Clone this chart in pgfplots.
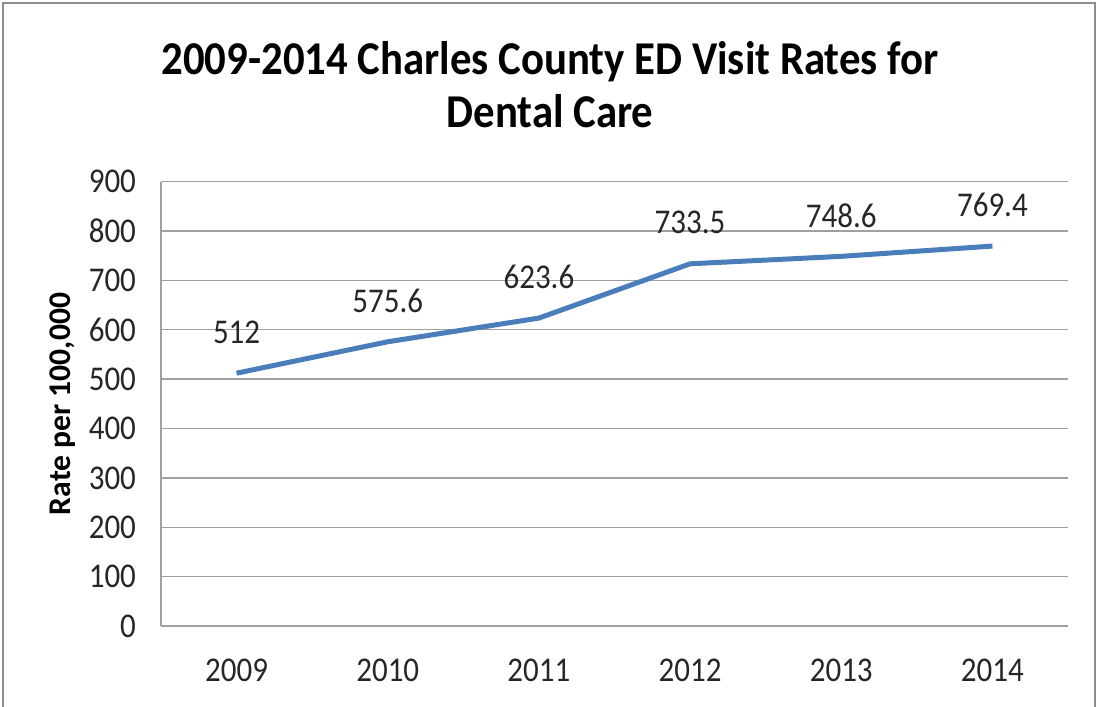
\documentclass[border=0pt]{standalone}
\usepackage{pgfplots}
\pgfplotsset{compat=1.18}
\usepackage{fontspec}
\setmainfont{Carlito}
\definecolor{lineblue}{HTML}{4A7EBB}
\definecolor{gridgray}{HTML}{A0A0A0}
\definecolor{framegray}{HTML}{8C8C8C}
\begin{document}
\begin{tikzpicture}
\useasboundingbox (0,0) rectangle (550pt,353.5pt);
\draw[framegray, line width=0.9pt] (1.5pt,0) -- (1.5pt,352pt) -- (547.5pt,352pt) -- (547.5pt,0);
\node[align=center, yscale=1.1, font=\fontsize{21.4}{24}\selectfont\bfseries] at (275pt,311pt) {2009-2014 Charles County ED Visit Rates for\\Dental Care};
\node[rotate=90, font=\fontsize{15.8}{18}\selectfont\bfseries] at (31.5pt,151.5pt) {Rate per 100,000};
\begin{axis}[
  at={(80.5pt,40.5pt)}, anchor=south west,
  scale only axis, width=453.5pt, height=222.2pt,
  xmin=-0.5, xmax=5.5, ymin=0, ymax=900,
  xtick={0,1,2,3,4,5},
  xticklabels={2009,2010,2011,2012,2013,2014},
  ytick={0,100,...,900},
  ymajorgrids, grid style={gridgray, line width=0.65pt},
  axis x line*=bottom, axis y line*=left,
  axis line style={gridgray, line width=0.65pt, -},
  major tick length=0pt,
  tick label style={font=\fontsize{15.5}{18}\selectfont, text=black!85, yscale=1.12},
  /pgf/number format/assume math mode=true,
  /pgf/number format/1000 sep={},
  yticklabel style={xshift=-9pt},
  xticklabel style={yshift=-11pt},
  clip=false,
]
\addplot[lineblue, line width=2.5pt, line join=round,
  nodes near coords, point meta=explicit symbolic,
  every node near coord/.append style={anchor=center, yshift=20.5pt, yscale=1.12, text=black!85, font=\fontsize{15.5}{18}\selectfont}]
  coordinates {(0,512) [512] (1,575.6) [575.6] (2,623.6) [623.6] (3,733.5) [733.5] (4,748.6) [748.6] (5,769.4) [769.4]};
\end{axis}
\end{tikzpicture}
\end{document}
